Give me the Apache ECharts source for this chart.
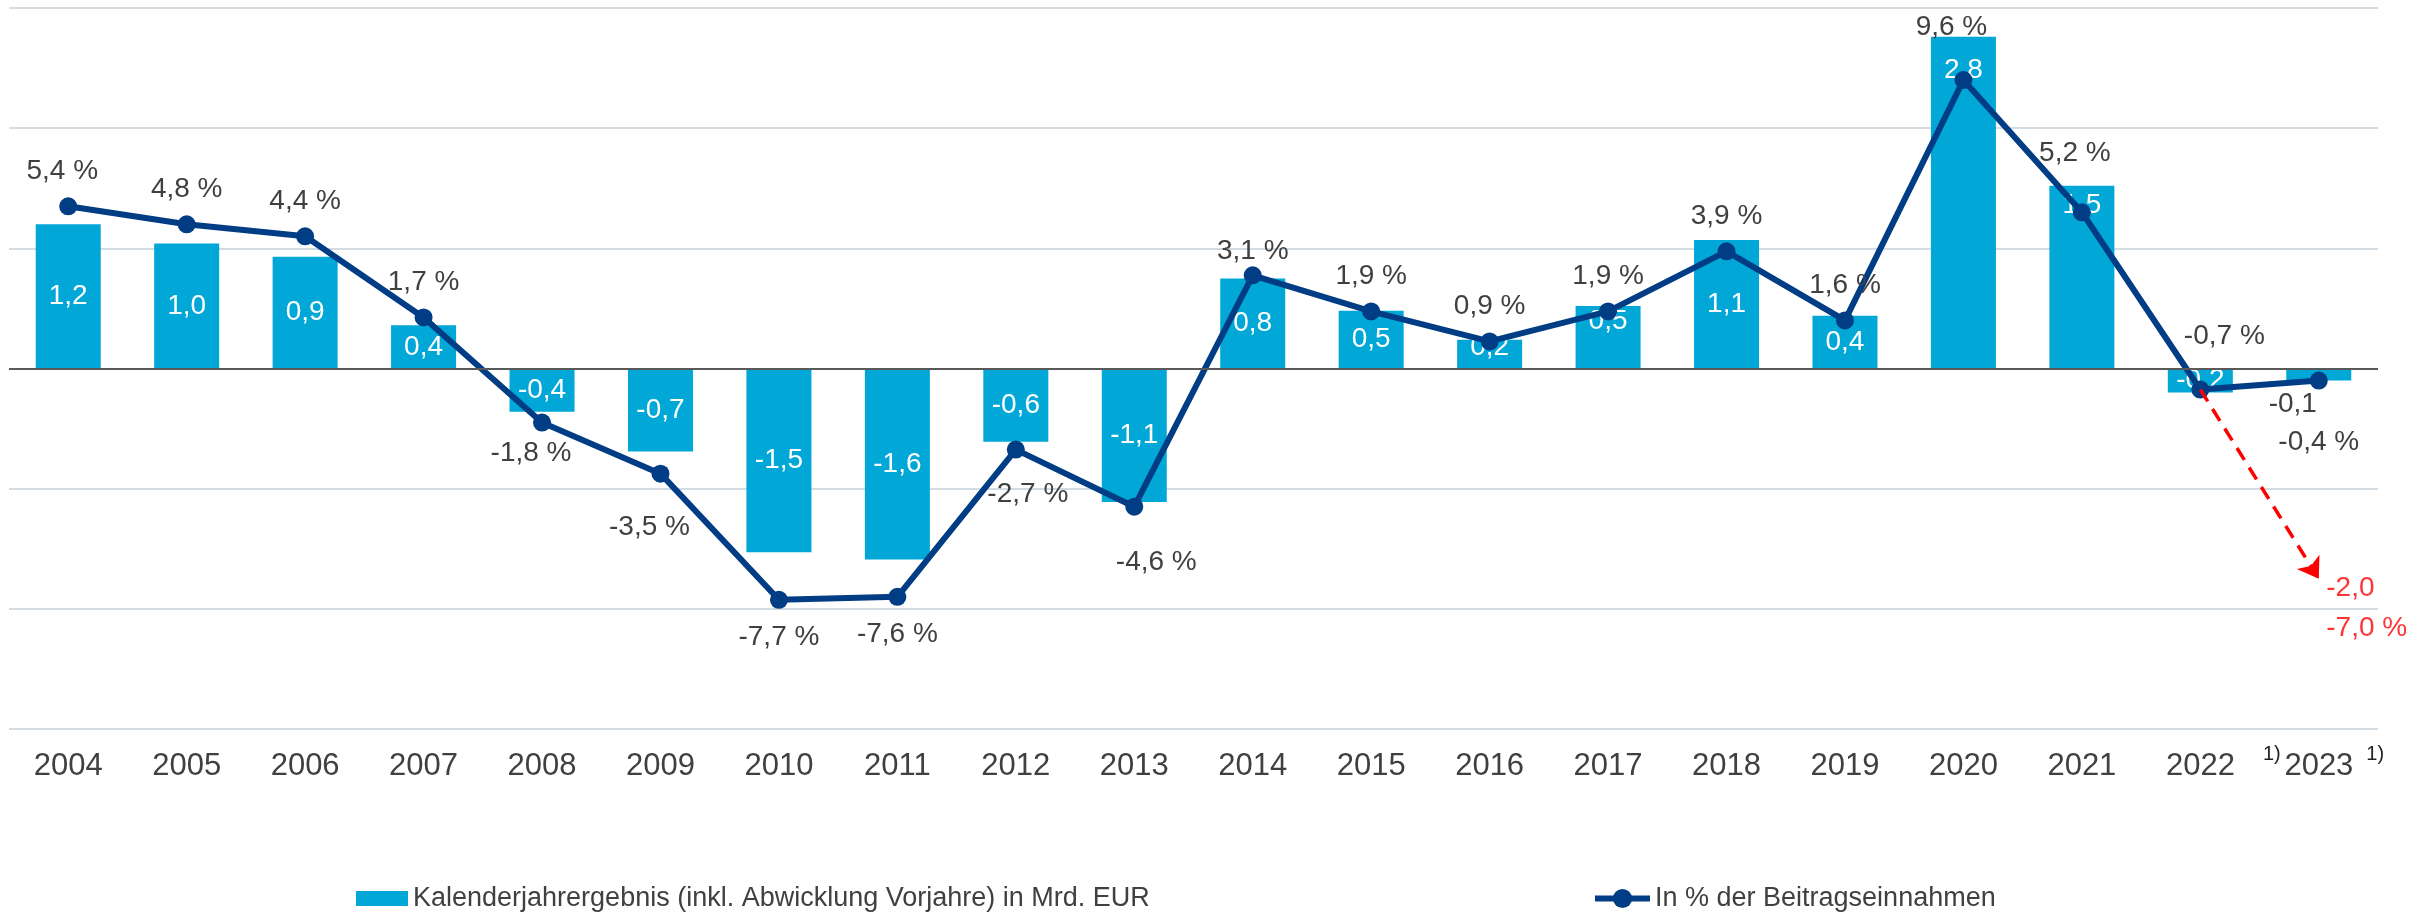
<!DOCTYPE html>
<html>
<head>
<meta charset="utf-8">
<script src="https://cdn.jsdelivr.net/npm/echarts@6/dist/echarts.min.js"></script>
<style>
  html, body { margin: 0; padding: 0; background: #fff; }
  #chart { width: 2413px; height: 912px; }
</style>
</head>
<body>
<div id="chart"></div>
<script>
  // Jahre und Werte
  const years = ['2004', '2005', '2006', '2007', '2008', '2009', '2010', '2011', '2012', '2013',
    '2014', '2015', '2016', '2017', '2018', '2019', '2020', '2021', '2022', '2023']
  const resultBn = [1.2, 1.04, 0.93, 0.36, -0.36, -0.69, -1.53, -1.59, -0.61, -1.11,
    0.75, 0.48, 0.24, 0.52, 1.07, 0.44, 2.76, 1.52, -0.2, -0.1]
  const pctOfPremiums = [5.4, 4.8, 4.4, 1.7, -1.8, -3.5, -7.7, -7.6, -2.7, -4.6,
    3.1, 1.9, 0.9, 1.9, 3.9, 1.6, 9.6, 5.2, -0.7, -0.4]
  const footnoteYears = ['2022', '2023']
  // Prognose 2023 (rot)
  const projBn = [-2.0]
  const projPct = [-7.0]

  const barName = 'Kalenderjahrergebnis (inkl. Abwicklung Vorjahre) in Mrd. EUR'
  const lineName = 'In % der Beitragseinnahmen'

  const BAR = '#00A7D7'
  const LINE = '#003D85'
  const TEXT = '#404040'
  const FONT = 'Liberation Sans'

  const fmt = (v) => v.toFixed(1).replace('.', ',')

  // Feinjustierung einzelner Beschriftungen
  const barLabelTweak = {
    12: { offset: [0, -7] },
    13: { offset: [0, -16] },
    16: { position: 'insideTop', offset: [0, 14] },
    17: { position: 'insideTop' },
    19: { position: 'bottom', color: TEXT, offset: [-26, 5] },
  }
  const pctLabelTweak = {
    0: { offset: [-6, 0] },
    4: { position: 'bottom', offset: [-11, -4] },
    5: { position: 'bottom', offset: [-11, 19] },
    6: { position: 'bottom', offset: [0, 2] },
    7: { position: 'bottom', offset: [0, 2] },
    8: { position: 'bottom', offset: [12, 10] },
    9: { position: 'bottom', offset: [22, 21] },
    10: { offset: [0, 11] },
    16: { offset: [-12, -18] },
    17: { offset: [-7, -24] },
    18: { offset: [24, -18] },
    19: { position: 'bottom', offset: [0, 27] },
  }

  const chart = echarts.init(document.getElementById('chart'), null, { renderer: 'canvas' })

  const option = {
    animation: false,
    textStyle: { fontFamily: FONT },
    grid: { left: 9, right: 35, top: 8, bottom: 183, containLabel: false },
    legend: [
      {
        data: [{ name: barName, icon: 'rect' }],
        left: 351,
        top: 880,
        itemWidth: 52,
        itemHeight: 15,
        itemGap: 6,
        textStyle: { fontSize: 27, color: TEXT, fontFamily: FONT },
      },
      {
        data: [lineName],
        left: 1587,
        top: 880,
        itemWidth: 55,
        itemHeight: 24,
        lineStyle: { width: 6 },
        textStyle: { fontSize: 27, color: TEXT, fontFamily: FONT },
      },
    ],
    xAxis: {
      type: 'category',
      data: years,
      boundaryGap: true,
      axisLine: { show: false },
      axisTick: { show: false },
      axisLabel: {
        margin: 15,
        interval: 0,
        formatter: (v) => {
          if (v === footnoteYears[0]) return `{p1|}{y|${v}}{s1|1)}`
          if (v === footnoteYears[1]) return `{p2|}{y|${v}}{s2|1)}`
          return `{y|${v}}`
        },
        rich: {
          y: { fontSize: 31, color: TEXT, lineHeight: 44, fontFamily: FONT },
          s1: { fontSize: 20, color: '#222', verticalAlign: 'top', lineHeight: 20, padding: [0, 0, 0, 28], fontFamily: FONT },
          s2: { fontSize: 20, color: '#222', verticalAlign: 'top', lineHeight: 20, padding: [0, 0, 0, 13], fontFamily: FONT },
          p1: { width: 46 },
          p2: { width: 31 },
        },
      },
    },
    yAxis: [
      {
        type: 'value',
        min: -3,
        max: 3,
        interval: 1,
        axisLine: { show: false },
        axisTick: { show: false },
        axisLabel: { show: false },
        splitLine: { lineStyle: { color: '#D3DCE3', width: 2 } },
      },
      {
        type: 'value',
        min: -12,
        max: 12,
        interval: 4,
        axisLine: { show: false },
        axisTick: { show: false },
        axisLabel: { show: false },
        splitLine: { show: false },
      },
    ],
    series: [
      {
        name: barName,
        type: 'bar',
        yAxisIndex: 0,
        barWidth: 65,
        itemStyle: { color: BAR },
        label: {
          show: true,
          position: 'inside',
          color: '#fff',
          fontSize: 28,
          fontFamily: FONT,
          formatter: (p) => fmt(p.value),
        },
        data: resultBn.map((v, i) => (barLabelTweak[i] ? { value: v, label: barLabelTweak[i] } : v)),
        markLine: {
          silent: true,
          symbol: ['none', 'none'],
          label: { show: false },
          lineStyle: { color: '#595959', width: 2, type: 'solid' },
          data: [{ yAxis: 0 }],
        },
        z: 2,
      },
      {
        name: lineName,
        type: 'line',
        yAxisIndex: 1,
        symbol: 'circle',
        symbolSize: 18,
        color: LINE,
        lineStyle: { color: LINE, width: 6 },
        itemStyle: { color: LINE },
        label: {
          show: true,
          position: 'top',
          distance: 12,
          color: TEXT,
          fontSize: 28,
          fontFamily: FONT,
          formatter: (p) => `${fmt(p.value)} %`,
        },
        data: pctOfPremiums.map((v, i) => (pctLabelTweak[i] ? { value: v, label: pctLabelTweak[i] } : v)),
        z: 4,
      },
      {
        name: 'Prognose',
        type: 'scatter',
        yAxisIndex: 1,
        symbolSize: 1,
        itemStyle: { color: 'rgba(0,0,0,0)' },
        label: {
          show: true,
          position: 'right',
          distance: 7,
          offset: [0, 29],
          align: 'left',
          color: '#FF0000',
          fontSize: 28,
          lineHeight: 40,
          fontFamily: FONT,
          formatter: () => `${fmt(projBn[0])}\n${fmt(projPct[0])} %`,
        },
        data: [[years[19], projPct[0]]],
        markLine: {
          silent: true,
          symbol: ['none', 'arrow'],
          symbolSize: 20,
          label: { show: false },
          lineStyle: { color: '#FF0000', width: 3.5, type: [14, 9] },
          data: [[
            { coord: [years[18], pctOfPremiums[18]] },
            { coord: [years[19], projPct[0]] },
          ]],
        },
        z: 3,
      },
    ],
  }

  chart.setOption(option)
</script>
</body>
</html>
